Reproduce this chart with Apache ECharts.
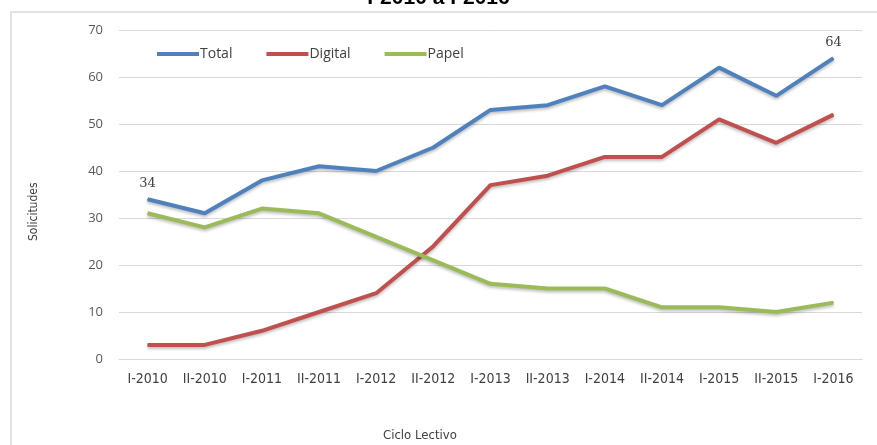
<!DOCTYPE html>
<html>
<head>
<meta charset="utf-8">
<script src="https://cdn.jsdelivr.net/npm/echarts@6/dist/echarts.min.js"></script>
<style>
  html, body { margin: 0; padding: 0; background: #fff; }
  #chart { width: 877px; height: 445px; }
</style>
</head>
<body>
<div id="chart"></div>
<script>
// Ciclos lectivos y solicitudes por medio
const ciclos = ['I-2010', 'II-2010', 'I-2011', 'II-2011', 'I-2012', 'II-2012', 'I-2013',
  'II-2013', 'I-2014', 'II-2014', 'I-2015', 'II-2015', 'I-2016'];
const total = [34, 31, 38, 41, 40, 45, 53, 54, 58, 54, 62, 56, 64];
const digital = [3, 3, 6, 10, 14, 24, 37, 39, 43, 43, 51, 46, 52];
const papel = [31, 28, 32, 31, 26, 21, 16, 15, 15, 11, 11, 10, 12];
const yTicks = [0, 10, 20, 30, 40, 50, 60, 70];

const colors = { Total: '#4F81BD', Digital: '#C0504D', Papel: '#9BBB59' };
const narrow = '"DejaVu Sans Condensed", "Liberation Sans Narrow", "Liberation Sans", sans-serif';

const chart = echarts.init(document.getElementById('chart'));

function serie(name, values, withEnds) {
  return {
    name: name,
    type: 'line',
    data: values.map((v, i) => {
      const item = { value: v };
      if (withEnds && (i === 0 || i === values.length - 1)) {
        item.label = { show: true };
      }
      return item;
    }),
    symbol: 'circle',
    symbolSize: 1,
    showSymbol: true,
    color: colors[name],
    itemStyle: { color: colors[name] },
    lineStyle: {
      width: 4, color: colors[name],
      shadowColor: 'rgba(0,0,0,0.25)', shadowBlur: 3, shadowOffsetY: 2
    },
    label: {
      show: false, position: 'top', distance: 9,
      fontFamily: 'DejaVu Serif', fontSize: 13, color: '#404040'
    },
    emphasis: { disabled: true },
    animation: false
  };
}

chart.setOption({
  backgroundColor: '#fff',
  animation: false,
  title: {
    text: 'I-2010 a I-2016',
    left: 'center',
    top: -17,
    textStyle: { fontFamily: 'Liberation Sans', fontWeight: 'bold', fontSize: 21, color: '#000' }
  },
  graphic: [
    {
      type: 'rect', silent: true,
      shape: { x: 11, y: 12, width: 900, height: 500 },
      style: { fill: 'none', stroke: '#d9d9d9', lineWidth: 1.5 }
    },
    {
      type: 'text', left: 383, top: 429, silent: true,
      style: { text: 'Ciclo Lectivo', font: '13px ' + narrow, fill: '#404040' }
    },
    {
      type: 'text', silent: true, x: 28, y: 241, rotation: Math.PI / 2,
      style: { text: 'Solicitudes', font: '12px ' + narrow, fill: '#404040' }
    }
  ],
  legend: {
    left: 152, top: 42,
    icon: 'rect', itemWidth: 42, itemHeight: 4, itemGap: 34,
    textStyle: { fontFamily: 'Open Sans', fontSize: 14, color: '#404040', padding: [0, 0, 0, -4] },
    data: ['Total', 'Digital', 'Papel']
  },
  grid: { left: 119, right: 15, top: 30, bottom: 86, containLabel: false },
  xAxis: {
    type: 'category',
    data: ciclos,
    boundaryGap: true,
    axisLine: { show: true, lineStyle: { color: '#d9d9d9' } },
    axisTick: { show: false },
    axisLabel: {
      interval: 0, margin: 13,
      fontFamily: narrow, fontSize: 14, color: '#404040'
    }
  },
  yAxis: {
    type: 'value',
    min: yTicks[0], max: yTicks[yTicks.length - 1], interval: 10,
    axisLine: { show: false },
    axisTick: { show: false },
    splitLine: { lineStyle: { color: '#d9d9d9', width: 1 } },
    axisLabel: {
      margin: 16,
      fontFamily: 'Open Sans', fontSize: 13, color: '#595959',
      formatter: v => yTicks.includes(v) ? String(v) : ''
    }
  },
  series: [
    serie('Total', total, true),
    serie('Digital', digital, false),
    serie('Papel', papel, false)
  ]
});
</script>
</body>
</html>
